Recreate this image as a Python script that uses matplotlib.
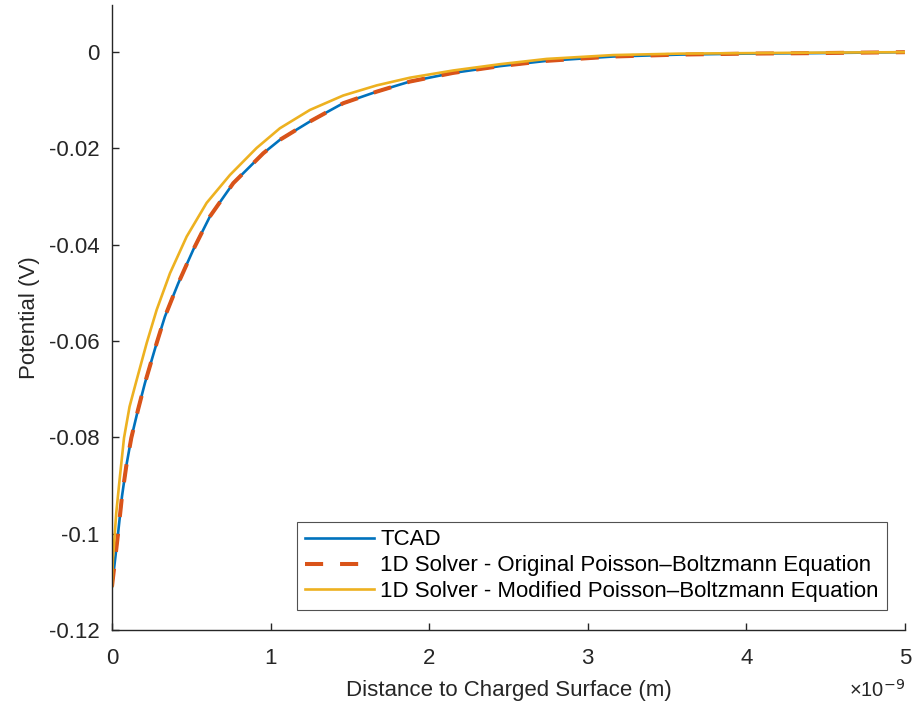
import matplotlib
matplotlib.use("Agg")
import matplotlib.pyplot as plt
from matplotlib.ticker import FuncFormatter

plt.rcParams['font.family'] = ['Liberation Sans', 'DejaVu Sans']
plt.rcParams['axes.unicode_minus'] = False

# distance in units of 1e-9 m, potential in V
tcadX = [0, 0.038, 0.063, 0.090, 0.122, 0.164, 0.208, 0.282, 0.334, 0.418,
         0.513, 0.618, 0.765, 0.954, 1.059, 1.248, 1.458, 1.669, 1.879, 2.152,
         2.446, 2.741, 3.161, 3.581, 4.002, 4.42, 5.0]
tcadV = [-0.111, -0.1001, -0.0923, -0.0860, -0.0801, -0.0743, -0.0687, -0.0604,
         -0.0549, -0.0480, -0.0410, -0.0341, -0.0272, -0.0210, -0.0182, -0.0144,
         -0.0106, -0.0082, -0.0061, -0.0043, -0.0029, -0.0018, -0.0009, -0.0005,
         -0.0003, -0.0002, 0.0]

origX = [0, 0.038, 0.063, 0.090, 0.122, 0.164, 0.208, 0.282, 0.334, 0.418,
         0.513, 0.618, 0.765, 0.954, 1.059, 1.248, 1.458, 1.669, 1.879, 2.152,
         2.446, 2.741, 3.161, 3.581, 4.002, 4.42, 5.0]
origV = [-0.111, -0.1001, -0.0923, -0.0860, -0.0801, -0.0743, -0.0687, -0.0604,
         -0.0549, -0.0480, -0.0410, -0.0341, -0.0272, -0.0210, -0.0182, -0.0144,
         -0.0106, -0.0082, -0.0061, -0.0043, -0.0029, -0.0018, -0.0009, -0.0005,
         -0.0003, -0.0002, 0.0]

modX = [0, 0.006, 0.027, 0.048, 0.076, 0.111, 0.153, 0.219, 0.282, 0.366,
        0.471, 0.597, 0.744, 0.912, 1.059, 1.248, 1.458, 1.669, 1.879, 2.152,
        2.446, 2.741, 3.161, 3.581, 4.002, 4.42, 5.0]
modV = [-0.111, -0.1054, -0.0957, -0.0888, -0.0801, -0.0736, -0.0684, -0.0604,
        -0.0535, -0.0459, -0.0383, -0.0313, -0.0255, -0.0199, -0.0158, -0.0120,
        -0.0090, -0.0069, -0.0053, -0.0038, -0.0025, -0.0014, -0.0006, -0.0003,
        -0.0002, -0.0001, 0.0]

labels = ['TCAD',
          '1D Solver - Original Poisson\u2013Boltzmann Equation',
          '1D Solver - Modified Poisson\u2013Boltzmann Equation']
xTicks = [0, 1, 2, 3, 4, 5]
yTicks = [0, -0.02, -0.04, -0.06, -0.08, -0.1, -0.12]

axisColor = '#262626'

fig = plt.figure(figsize=(9.14, 7.13), dpi=100)
ax = fig.add_axes([0.1225, 0.1164, 0.8675, 0.8766])

ax.plot(tcadX, tcadV, color='#0072BD', lw=1.9, label=labels[0])
ax.plot(origX, origV, color='#D95319', lw=2.9, dashes=(4.5, 4.2), label=labels[1])
ax.plot(modX, modV, color='#EDB120', lw=1.9, label=labels[2])

ax.set_xlim(0, 5)
ax.set_ylim(-0.12, 0.0098)
ax.set_xticks(xTicks)
ax.set_yticks(yTicks)
ax.yaxis.set_major_formatter(FuncFormatter(lambda v, p: '%g' % v))

for side in ['top', 'right']:
    ax.spines[side].set_visible(False)
for side in ['left', 'bottom']:
    ax.spines[side].set_color(axisColor)
    ax.spines[side].set_linewidth(1.0)
ax.tick_params(direction='in', length=5, width=1.0, colors=axisColor,
               labelsize=16)
ax.tick_params(axis='x', pad=13)
ax.tick_params(axis='y', pad=9)

ax.set_xlabel('Distance to Charged Surface (m)', fontsize=16, color=axisColor,
              labelpad=8)
ax.set_ylabel('Potential (V)', fontsize=16, color=axisColor, labelpad=6)
ax.text(1.0, -0.078, '\u00d710$^{-9}$', transform=ax.transAxes, ha='right',
        va='top', fontsize=14.5, color=axisColor)

leg = ax.legend(loc='lower right', bbox_to_anchor=(0.977, 0.032), fontsize=16,
                frameon=True, fancybox=False, edgecolor='#262626',
                handlelength=3.1, borderpad=0.35, labelspacing=0.22,
                handletextpad=0.3, borderaxespad=0)
leg.get_frame().set_linewidth(0.8)
for t in leg.get_texts():
    t.set_color('black')

fig.savefig('out.png', dpi=100)
